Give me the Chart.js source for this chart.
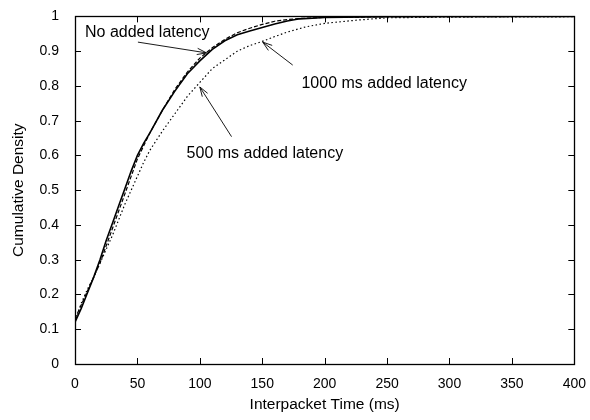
<!DOCTYPE html>
<html>
<head>
<meta charset="utf-8">
<script src="https://cdn.jsdelivr.net/npm/chart.js@4/dist/chart.umd.min.js"></script>
<style>
  body { margin: 0; background: #fff; }
  canvas { display: block; }
</style>
</head>
<body>
<canvas id="cdfChart" width="590" height="420"></canvas>
<script>
// values (ms -> cumulative fraction)
var noLatencyX = [0, 5, 10, 15, 20, 25, 30, 35, 40, 45, 50, 55, 60, 70, 80, 90, 100, 110, 120, 130, 140, 150, 160, 170, 180, 200, 250, 300, 400];
var noLatencyY = [0.12, 0.16, 0.205, 0.25, 0.30, 0.355, 0.405, 0.455, 0.505, 0.555, 0.60, 0.635, 0.665, 0.73, 0.785, 0.835, 0.872, 0.905, 0.93, 0.947, 0.958, 0.968, 0.978, 0.987, 0.993, 0.997, 0.999, 1, 1];

var dashedX = [0, 10, 20, 30, 40, 50, 60, 70, 80, 90, 100, 110, 120, 130, 140, 150, 160, 170, 180, 200, 250, 400];
var dashedY = [0.13, 0.21, 0.29, 0.39, 0.49, 0.59, 0.665, 0.73, 0.79, 0.84, 0.88, 0.91, 0.934, 0.953, 0.966, 0.977, 0.986, 0.991, 0.994, 0.997, 0.999, 1];

var dottedX = [0, 5, 10, 15, 20, 30, 40, 50, 55, 60, 70, 80, 90, 100, 110, 120, 130, 140, 150, 160, 170, 185, 200, 225, 250, 300, 400];
var dottedY = [0.12, 0.175, 0.215, 0.25, 0.29, 0.37, 0.46, 0.54, 0.58, 0.615, 0.67, 0.72, 0.77, 0.81, 0.85, 0.875, 0.90, 0.916, 0.928, 0.942, 0.955, 0.97, 0.98, 0.989, 0.996, 0.998, 0.999];

var xTickLabels = ["0", "50", "100", "150", "200", "250", "300", "350", "400"];
var yTickLabels = ["0", "0.1", "0.2", "0.3", "0.4", "0.5", "0.6", "0.7", "0.8", "0.9", "1"];

var labelNo = "No added latency";
var label1000 = "1000 ms added latency";
var label500 = "500 ms added latency";

const FONT = "'Liberation Sans', Arial, Helvetica, sans-serif";

function toPoints(xs, ys) {
    const pts = [];
    for(let i = 0; i < xs.length; i++) {
        pts.push({ x: xs[i], y: ys[i] });
    }
    return pts;
}

// text + arrow annotations, in data coordinates
const notes = [
    { text: labelNo,   tx: 8,     ty: 0.954, from: [50.4, 0.926],  to: [105.4, 0.895] },
    { text: label1000, tx: 181.4, ty: 0.807, from: [174.4, 0.86],  to: [150.4, 0.926] },
    { text: label500,  tx: 89.4,  ty: 0.604, from: [125.4, 0.654], to: [100, 0.797] }
];

const framePlugin = {
    id: 'frame',
    afterDatasetsDraw(chart) {
        const ctx = chart.ctx;
        const a = chart.chartArea;
        const xs = chart.scales.x;
        const ys = chart.scales.y;
        ctx.save();
        ctx.strokeStyle = '#000';
        ctx.lineWidth = 1;
        // inward tick marks on all four sides
        xs.ticks.forEach(t => {
            const px = Math.round(xs.getPixelForValue(t.value)) + 0.5;
            ctx.beginPath();
            ctx.moveTo(px, a.bottom); ctx.lineTo(px, a.bottom - 6);
            ctx.moveTo(px, a.top); ctx.lineTo(px, a.top + 6);
            ctx.stroke();
        });
        ys.ticks.forEach(t => {
            const py = Math.round(ys.getPixelForValue(t.value)) + 0.5;
            ctx.beginPath();
            ctx.moveTo(a.left, py); ctx.lineTo(a.left + 6, py);
            ctx.moveTo(a.right, py); ctx.lineTo(a.right - 6, py);
            ctx.stroke();
        });
        ctx.lineWidth = 1.3;
        ctx.strokeRect(Math.round(a.left) + 0.5, Math.round(a.top) + 0.5, Math.round(a.right - a.left), Math.round(a.bottom - a.top));

        // annotations
        ctx.fillStyle = '#000';
        ctx.font = "16px " + FONT;
        ctx.textBaseline = 'middle';
        ctx.textAlign = 'left';
        notes.forEach(n => {
            ctx.fillText(n.text, xs.getPixelForValue(n.tx), ys.getPixelForValue(n.ty));
            const x1 = xs.getPixelForValue(n.from[0]), y1 = ys.getPixelForValue(n.from[1]);
            const x2 = xs.getPixelForValue(n.to[0]), y2 = ys.getPixelForValue(n.to[1]);
            ctx.lineWidth = 0.9;
            ctx.beginPath();
            ctx.moveTo(x1, y1); ctx.lineTo(x2, y2);
            const ang = Math.atan2(y2 - y1, x2 - x1);
            const len = 10, spread = 0.32;
            ctx.moveTo(x2, y2);
            ctx.lineTo(x2 - len * Math.cos(ang - spread), y2 - len * Math.sin(ang - spread));
            ctx.moveTo(x2, y2);
            ctx.lineTo(x2 - len * Math.cos(ang + spread), y2 - len * Math.sin(ang + spread));
            ctx.stroke();
        });
        ctx.restore();
    }
};

new Chart(document.getElementById('cdfChart'), {
    type: 'scatter',
    data: {
        datasets: [{
            label: labelNo,
            data: toPoints(noLatencyX, noLatencyY),
            showLine: true,
            borderColor: '#000',
            borderWidth: 1.6,
            pointRadius: 0,
            tension: 0
        }, {
            label: label1000,
            data: toPoints(dashedX, dashedY),
            showLine: true,
            borderColor: '#000',
            borderWidth: 1.2,
            borderDash: [4, 2],
            pointRadius: 0,
            tension: 0
        }, {
            label: label500,
            data: toPoints(dottedX, dottedY),
            showLine: true,
            borderColor: '#000',
            borderWidth: 1.2,
            borderDash: [1.5, 2.5],
            pointRadius: 0,
            tension: 0
        }]
    },
    options: {
        responsive: false,
        animation: false,
        layout: { padding: { top: 14, right: 15, left: 0, bottom: 0 } },
        plugins: {
            legend: { display: false },
            tooltip: { enabled: false }
        },
        scales: {
            x: {
                type: 'linear',
                min: 0,
                max: 400,
                afterFit: function(scale) { scale.height = 56; },
                grid: { display: false },
                border: { display: false },
                ticks: {
                    stepSize: 50,
                    color: '#000',
                    padding: 4,
                    maxRotation: 0,
                    font: { family: FONT, size: 14 },
                    callback: function(value, index) { return xTickLabels[index]; }
                },
                title: {
                    display: true,
                    text: 'Interpacket Time (ms)',
                    color: '#000',
                    padding: { top: 2, bottom: 6 },
                    font: { family: FONT, size: 15.5 }
                }
            },
            y: {
                type: 'linear',
                min: 0,
                max: 1,
                afterFit: function(scale) { scale.width = 75; },
                grid: { display: false },
                border: { display: false },
                ticks: {
                    stepSize: 0.1,
                    color: '#000',
                    padding: 8,
                    font: { family: FONT, size: 14 },
                    callback: function(value, index) { return yTickLabels[index]; }
                },
                title: {
                    display: true,
                    text: 'Cumulative Density',
                    color: '#000',
                    padding: { top: 9, bottom: 4 },
                    font: { family: FONT, size: 15.5 }
                }
            }
        }
    },
    plugins: [framePlugin]
});
</script>
</body>
</html>
